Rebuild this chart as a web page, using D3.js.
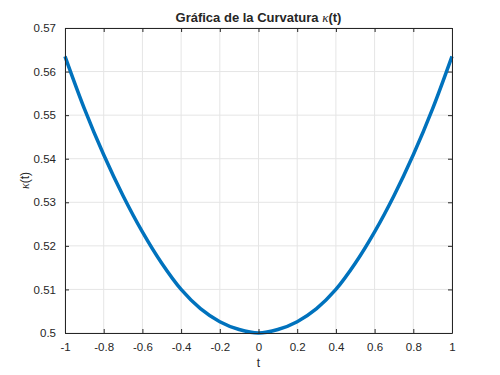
<!DOCTYPE html>
<html>
<head>
<meta charset="utf-8">
<script src="https://cdn.jsdelivr.net/npm/d3@7"></script>
<style>
  body { margin: 0; background: #fff; }
  text { font-family: "Liberation Sans", Arial, sans-serif; fill: #262626; }
</style>
</head>
<body>
<script>
// chart.js
const width = 500;
const height = 375;
const margin = {top: 28, right: 48, bottom: 42, left: 65};

// values, t from -1 to 1 by 0.1
const t_values = [-1, -0.9, -0.8, -0.7, -0.6, -0.5, -0.4, -0.3, -0.2, -0.1, 0,
                  0.1, 0.2, 0.3, 0.4, 0.5, 0.6, 0.7, 0.8, 0.9, 1];
const kappa_values = [0.5635, 0.5515, 0.5409, 0.5315, 0.5232, 0.5160, 0.5100, 0.5056, 0.5026, 0.5008, 0.5,
                      0.5008, 0.5026, 0.5056, 0.5100, 0.5160, 0.5232, 0.5315, 0.5409, 0.5515, 0.5635];

const x_ticks = [-1, -0.8, -0.6, -0.4, -0.2, 0, 0.2, 0.4, 0.6, 0.8, 1];
const y_ticks = [0.5, 0.51, 0.52, 0.53, 0.54, 0.55, 0.56, 0.57];

const data = t_values.map((t, i) => ({t: t, value: kappa_values[i]}));

const x = d3.scaleLinear()
  .domain([-1, 1])
  .range([margin.left, width - margin.right]);

const y = d3.scaleLinear()
  .domain([0.5, 0.57])
  .range([height - margin.bottom, margin.top]);

const svg = d3.select('body').append('svg')
  .attr('width', width).attr('height', height);

// grid
svg.append('g')
  .selectAll('line')
  .data(x_ticks)
  .join('line')
  .attr('x1', d => x(d)).attr('x2', d => x(d))
  .attr('y1', margin.top).attr('y2', height - margin.bottom)
  .attr('stroke', '#e5e5e5').attr('stroke-width', 1);
svg.append('g')
  .selectAll('line')
  .data(y_ticks)
  .join('line')
  .attr('y1', d => y(d)).attr('y2', d => y(d))
  .attr('x1', margin.left).attr('x2', width - margin.right)
  .attr('stroke', '#e5e5e5').attr('stroke-width', 1);

const line = d3.line()
  .curve(d3.curveCatmullRom)
  .x(d => x(d.t))
  .y(d => y(d.value));

svg.append('path')
  .datum(data)
  .attr('fill', 'none')
  .attr('stroke', '#0072BD')
  .attr('stroke-width', 3.5)
  .attr('stroke-linejoin', 'round')
  .attr('d', line);

// axes, ticks inside like matlab
const tickFmt = d => String(+d.toFixed(2));

const xAxis = g => g
  .attr('transform', `translate(0,${height - margin.bottom})`)
  .call(d3.axisBottom(x).tickValues(x_ticks).tickSize(-4).tickPadding(10).tickFormat(tickFmt).tickSizeOuter(0));
const xTop = g => g
  .attr('transform', `translate(0,${margin.top})`)
  .call(d3.axisTop(x).tickValues(x_ticks).tickSize(-4).tickFormat('').tickSizeOuter(0));
const yAxis = g => g
  .attr('transform', `translate(${margin.left},0)`)
  .call(d3.axisLeft(y).tickValues(y_ticks).tickSize(-4).tickPadding(9).tickFormat(tickFmt).tickSizeOuter(0));
const yRight = g => g
  .attr('transform', `translate(${width - margin.right},0)`)
  .call(d3.axisRight(y).tickValues(y_ticks).tickSize(-4).tickFormat('').tickSizeOuter(0));

for (const ax of [xAxis, xTop, yAxis, yRight]) {
  svg.append('g').call(ax)
    .call(g => g.selectAll('.domain, line').attr('stroke', '#262626'))
    .call(g => g.selectAll('text')
      .attr('font-size', '11.5px')
      .attr('font-family', '"Liberation Sans", Arial, sans-serif')
      .attr('fill', '#262626'));
}

// title
const title = svg.append('text')
  .attr('x', (margin.left + width - margin.right) / 2)
  .attr('y', 22)
  .attr('text-anchor', 'middle')
  .attr('font-size', '13px')
  .attr('font-weight', 'bold');
title.append('tspan').text('Gráfica de la Curvatura ');
title.append('tspan').text('κ').attr('font-family', '"Liberation Serif", serif').attr('font-style', 'italic').attr('font-weight', 'normal');
title.append('tspan').text('(t)');

// axis labels
svg.append('text')
  .attr('x', (margin.left + width - margin.right) / 2)
  .attr('y', 367)
  .attr('text-anchor', 'middle')
  .attr('font-size', '12px')
  .text('t');

const ylab = svg.append('text')
  .attr('transform', `translate(29,${(margin.top + height - margin.bottom) / 2}) rotate(-90)`)
  .attr('text-anchor', 'middle')
  .attr('font-size', '12px');
ylab.append('tspan').text('κ').attr('font-family', '"Liberation Serif", serif').attr('font-style', 'italic');
ylab.append('tspan').text('(t)');
</script>
</body>
</html>
